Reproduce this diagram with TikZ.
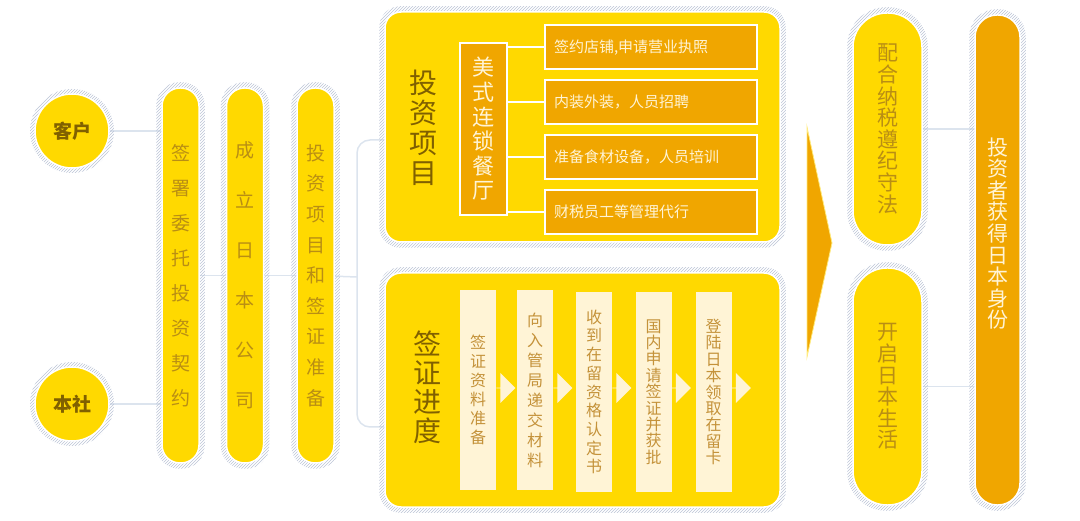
\documentclass[tikz,border=0pt]{standalone}
\usepackage{fontspec}
\setmainfont{Noto Sans CJK SC}
\usetikzlibrary{shapes,arrows,positioning,patterns,backgrounds}

\definecolor{ylw}{RGB}{255,217,0}
\definecolor{org}{RGB}{240,166,0}
\definecolor{hatchc}{RGB}{188,196,214}
\definecolor{linec}{RGB}{220,228,238}
\definecolor{goldtxt}{RGB}{185,142,20}
\definecolor{browntxt}{RGB}{128,96,0}
\definecolor{cream}{RGB}{255,244,214}
\definecolor{coltxt}{RGB}{196,146,58}

\newcommand{\hatchring}[2]{\fill[hatchfill, rounded corners=#2] ([shift={(-5,5)}]#1.south west) rectangle ([shift={(5,-5)}]#1.north east);}

\begin{document}
\begin{tikzpicture}
                [
                    x=1pt, y=-1pt,
                    hatchfill/.style={pattern=north east lines, pattern color=hatchc},
                    connline/.style={draw=linec, line width=1.5pt},
                    wline/.style={draw=white, line width=2pt},
                    roundnode/.style={circle, fill=ylw, draw=white, line width=1.5pt, minimum size=74pt, inner sep=0pt, text=browntxt, font=\fontsize{19}{20}\selectfont\bfseries},
                    pillnode/.style={rectangle, rounded corners=18pt, fill=ylw, draw=white, line width=1.5pt, minimum width=37pt, minimum height=375pt, inner sep=0pt, text=goldtxt, align=center},
                    bigbox/.style={rectangle, rounded corners=16pt, fill=ylw, draw=white, line width=1.5pt, minimum width=395pt},
                    titletext/.style={text=browntxt, align=center, inner sep=0pt},
                    orangebox/.style={rectangle, fill=org, draw=white, line width=2pt, text=cream},
                    itembox/.style={orangebox, minimum width=212pt, minimum height=44pt, text width=194pt, inner xsep=9pt, align=left, font=\fontsize{15}{18}\selectfont},
                    colbox/.style={rectangle, fill=cream, minimum width=36pt, minimum height=200pt, inner sep=0pt, text=coltxt, align=center},
                    stepArrow/.style={single arrow, fill=cream, minimum height=19pt, minimum width=30pt, single arrow head extend=7pt, inner sep=0pt, anchor=west},
                    sidepill/.style={rectangle, rounded corners=34pt, fill=ylw, draw=white, line width=1.5pt, minimum width=69pt, inner sep=0pt, text=goldtxt, align=center, font=\fontsize{21}{21.6}\selectfont},
                ]

                \useasboundingbox (0,0) rectangle (1080,521);

                \node [roundnode] (kehu) at (72,131) {客户};
                \node [roundnode] (benshe) at (72,404) {本社};

                \node [pillnode, font=\fontsize{19}{35}\selectfont] (pill1) at (180.5,275.5) {签\\署\\委\\托\\投\\资\\契\\约};
                \node [pillnode, font=\fontsize{19}{50}\selectfont] (pill2) [right=26pt of pill1] {成\\立\\日\\本\\公\\司};
                \node [pillnode, font=\fontsize{19}{30.6}\selectfont] (pill3) [right=32pt of pill2] {投\\资\\项\\目\\和\\签\\证\\准\\备};
                \coordinate (brk) at (357,277);
                \coordinate (brktop) at (370,140);
                \coordinate (brkbot) at (370,427);

                \node [bigbox, minimum height=230pt] (topbox) at (582.5,127) {};
                \node [bigbox, minimum height=234pt] (botbox) at (582.5,390) {};

                \node [titletext, font=\fontsize{28}{30}\selectfont] (tzxm) at (423,128) {投\\资\\项\\目};
                \node [orangebox, minimum width=47pt, minimum height=172pt, inner sep=0pt, align=center, font=\fontsize{22}{24.6}\selectfont] (canting) at (483.5,129) {美\\式\\连\\锁\\餐\\厅};
                \node [itembox] (item1) at (651,47.5) {签约店铺,申请营业执照};
                \node [itembox] (item2) at (651,102) {内装外装，人员招聘};
                \node [itembox] (item3) at (651,157) {准备食材设备，人员培训};
                \node [itembox] (item4) at (651,212) {财税员工等管理代行};
                \foreach \i in {1,...,4}
                    \draw[wline] (canting.east |- item\i.west) -- (item\i.west);

                \node [titletext, font=\fontsize{28}{29}\selectfont] (qzjd) at (427,387) {签\\证\\进\\度};
                \node [colbox, font=\fontsize{16}{19}\selectfont] (col1) at (478,390) {签\\证\\资\\料\\准\\备};
                \node [colbox, font=\fontsize{16}{20}\selectfont] (col2) at (535,390) {向\\入\\管\\局\\递\\交\\材\\料};
                \node [colbox, font=\fontsize{16}{18.7}\selectfont] (col3) at (594,392) {收\\到\\在\\留\\资\\格\\认\\定\\书};
                \node [colbox, font=\fontsize{16}{16.4}\selectfont] (col4) at (653.5,392) {国\\内\\申\\请\\签\\证\\并\\获\\批};
                \node [colbox, font=\fontsize{16}{16.4}\selectfont] (col5) at (713.5,392) {登\\陆\\日\\本\\领\\取\\在\\留\\卡};
                \foreach \i in {1,...,5}
                    \node [stepArrow] (arr\i) at (col\i.east |- 0,388) {};

                \fill[org, draw=ylw!50, line width=0.8pt] (807,127) -- (832,243) -- (807,357) -- cycle;

                \node [sidepill, minimum height=232pt] (peihe) at (887.5,129) {配\\合\\纳\\税\\遵\\纪\\守\\法};
                \node [sidepill, minimum height=237pt] (kaiqi) at (887.5,386.5) {开\\启\\日\\本\\生\\活};
                \node [rectangle, rounded corners=22pt, fill=org, draw=white, line width=1.5pt, minimum width=45pt, minimum height=490pt] (shenfen) at (997.5,260) {};
                \node [text=cream, align=center, inner sep=0pt, font=\fontsize{21}{21.6}\selectfont] (shenfentext) at (997.5,233.5) {投\\资\\者\\获\\得\\日\\本\\身\\份};

                \begin{scope}[on background layer]
                    \draw[connline] (kehu) -- (pill1.west |- kehu);
                    \draw[connline] (benshe) -- (pill1.west |- benshe);
                    \draw[connline] (pill1) -- (pill3);
                    \draw[connline] (pill3) -- (brk);
                    \draw[connline, rounded corners=13pt] (topbox.west |- brktop) -| (brk) |- (botbox.west |- brkbot);
                    \draw[connline] (peihe) -- (shenfen.center |- peihe);
                    \draw[connline] (kaiqi) -- (shenfen.center |- kaiqi);

                    \fill[hatchfill] (kehu) circle (42pt);
                    \fill[hatchfill] (benshe) circle (42pt);
                    \hatchring{pill1}{23pt}
                    \hatchring{pill2}{23pt}
                    \hatchring{pill3}{23pt}
                    \hatchring{topbox}{21pt}
                    \hatchring{botbox}{21pt}
                    \hatchring{peihe}{39pt}
                    \hatchring{kaiqi}{39pt}
                    \hatchring{shenfen}{27pt}
                \end{scope}

            \end{tikzpicture}
\end{document}
